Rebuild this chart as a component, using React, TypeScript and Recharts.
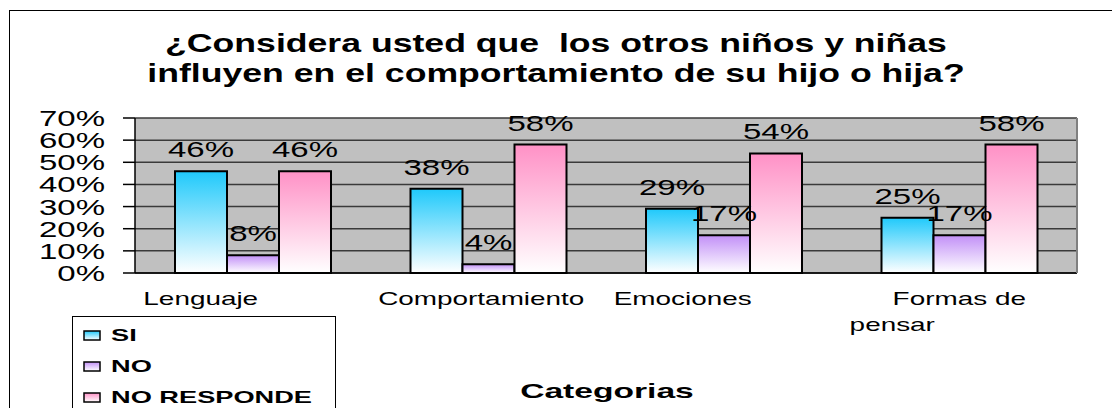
import { BarChart, Bar, XAxis, YAxis, CartesianGrid, Legend, LabelList } from 'recharts';

const categories = ['Lenguaje', 'Comportamiento', 'Emociones', 'Formas de pensar'];
const si = [46, 38, 29, 25];
const no = [8, 4, 17, 17];
const noResponde = [46, 58, 54, 58];
const yTicks = [0, 10, 20, 30, 40, 50, 60, 70];
const edgeTicks = [0, 1, 2, 3, 4];

const data = categories.map((name, i) => ({ name, si: si[i], no: no[i], nr: noResponde[i] }));

const series = [
  { key: 'si', name: 'SI', grad: 'gSi', top: '#1FC9FB' },
  { key: 'no', name: 'NO', grad: 'gNo', top: '#C290F7' },
  { key: 'nr', name: 'NO RESPONDE', grad: 'gNr', top: '#FF91C6' },
];

const FONT = '"Liberation Sans", Arial, sans-serif';

// Excel put the category labels a bit off-centre; nudge to match
const labelShift: Record<string, number> = {
  'Lenguaje': -52,
  'Comportamiento': -7,
  'Emociones': -41,
  'Formas de': 0,
  'pensar': -67,
};

function wrap(text: string, max: number) {
  const lines: string[] = [];
  let cur = '';
  text.split(' ').forEach((w) => {
    if (cur && (cur + ' ' + w).length > max) {
      lines.push(cur);
      cur = w;
    } else {
      cur = cur ? cur + ' ' + w : w;
    }
  });
  if (cur) lines.push(cur);
  return lines;
}

function YTick({ x, y, payload }: any) {
  return (
    <text transform={`translate(${x},${y + 8}) scale(1.5,1)`} textAnchor="end" fontSize={22} fontFamily={FONT} fill="#000">
      {payload.value}%
    </text>
  );
}

function XTick({ x, y, payload }: any) {
  const lines = wrap(payload.value, 10);
  return (
    <g>
      {lines.map((l, i) => (
        <text
          key={i}
          transform={`translate(${x + (labelShift[l] ?? 0)},${y + 32 + i * 26}) scale(1.55,1)`}
          textAnchor="middle"
          fontSize={18}
          fontFamily={FONT}
          fill="#000"
        >
          {l}
        </text>
      ))}
    </g>
  );
}

function BarLabel({ x, y, width, value }: any) {
  return (
    <text transform={`translate(${x + width / 2},${y - 14}) scale(1.5,1)`} textAnchor="middle" fontSize={22} fontFamily={FONT} fill="#000">
      {value}%
    </text>
  );
}

function LegendBox({ payload }: any) {
  const order = (k: string) => series.findIndex((d) => d.key === k);
  const items = [...(payload || [])].sort((a: any, b: any) => order(a.dataKey) - order(b.dataKey));
  return (
    <div style={{ border: '1.5px solid #000', background: '#fff', height: 110, boxSizing: 'border-box', paddingTop: 3 }}>
      {items.map((entry: any) => {
        const s = series.find((d) => d.key === entry.dataKey) || series[0];
        return (
          <div key={s.key} style={{ display: 'flex', alignItems: 'center', height: 31 }}>
            <svg width={38} height={12} style={{ flex: 'none' }}>
              <rect x={11} y={1} width={16} height={9} fill={`url(#${s.grad})`} stroke="#000" strokeWidth={1.5} />
            </svg>
            <span
              style={{
                fontFamily: FONT,
                fontWeight: 'bold',
                fontSize: 17,
                transform: 'scaleX(1.6)',
                transformOrigin: 'left center',
                whiteSpace: 'pre',
                color: '#000',
              }}
            >
              {entry.value}
            </span>
          </div>
        );
      })}
    </div>
  );
}

export default function App() {
  return (
    <div style={{ position: 'fixed', left: 0, top: 0, width: 1112, height: 408, overflow: 'hidden', background: '#fff' }}>
      <div style={{ position: 'absolute', left: 9, top: 10, width: 1200, height: 500, border: '1.5px solid #000' }} />
      <div
        style={{
          position: 'absolute',
          left: 0,
          top: 28,
          width: 1112,
          textAlign: 'center',
          fontFamily: FONT,
          fontWeight: 'bold',
          fontSize: 26,
          lineHeight: '30px',
          whiteSpace: 'pre',
          transform: 'scaleX(1.37)',
          transformOrigin: '556px 0',
          color: '#000',
        }}
      >
        {'¿Considera usted que  los otros niños y niñas\ninfluyen en el comportamiento de su hijo o hija?'}
      </div>
      <div style={{ position: 'absolute', left: 0, top: 0 }}>
        <BarChart
          width={1112}
          height={408}
          data={data}
          margin={{ top: 118, right: 34, bottom: 0, left: 0 }}
          barCategoryGap={40}
          barGap={0}
        >
          <defs>
            {series.map((s) => (
              <linearGradient key={s.grad} id={s.grad} x1="0" y1="0" x2="0" y2="1">
                <stop offset="0%" stopColor={s.top} />
                <stop offset="100%" stopColor="#FFFFFF" />
              </linearGradient>
            ))}
          </defs>
          <CartesianGrid
            xAxisId="cat"
            yAxisId="l"
            vertical={false}
            fill="#C0C0C0"
            fillOpacity={1}
            stroke="#3a3a3a"
            strokeWidth={1.5}
          />
          <XAxis
            xAxisId="edge"
            type="number"
            domain={[0, 4]}
            ticks={edgeTicks}
            height={1}
            tick={false}
            tickSize={7}
            axisLine={false}
            tickLine={{ stroke: '#000', strokeWidth: 1.5 }}
          />
          <XAxis
            xAxisId="cat"
            dataKey="name"
            height={134}
            interval={0}
            tickLine={false}
            tickSize={0}
            tickMargin={0}
            axisLine={{ stroke: '#000', strokeWidth: 1.5 }}
            tick={<XTick />}
          />
          <YAxis
            yAxisId="l"
            width={135}
            domain={[0, 70]}
            ticks={yTicks}
            interval={0}
            tickSize={12}
            tickMargin={18}
            axisLine={{ stroke: '#000', strokeWidth: 1.5 }}
            tickLine={{ stroke: '#000', strokeWidth: 1.5 }}
            tick={<YTick />}
          />
          <YAxis
            yAxisId="r"
            orientation="right"
            width={1}
            domain={[0, 70]}
            tick={false}
            tickLine={false}
            axisLine={{ stroke: '#808080', strokeWidth: 2 }}
          />
          <Legend
            layout="vertical"
            align="center"
            verticalAlign="middle"
            wrapperStyle={{ left: 72, top: 316, width: 264 }}
            content={<LegendBox />}
          />
          {series.map((s) => (
            <Bar
              key={s.key}
              xAxisId="cat"
              yAxisId="l"
              dataKey={s.key}
              name={s.name}
              fill={`url(#${s.grad})`}
              stroke="#000"
              strokeWidth={2}
              isAnimationActive={false}
            >
              <LabelList dataKey={s.key} content={<BarLabel />} />
            </Bar>
          ))}
        </BarChart>
      </div>
      <div
        style={{
          position: 'absolute',
          left: 507,
          top: 379,
          width: 200,
          textAlign: 'center',
          fontFamily: FONT,
          fontWeight: 'bold',
          fontSize: 21,
          lineHeight: '24px',
          transform: 'scaleX(1.6)',
          transformOrigin: '100px 0',
          color: '#000',
        }}
      >
        Categorias
      </div>
    </div>
  );
}
